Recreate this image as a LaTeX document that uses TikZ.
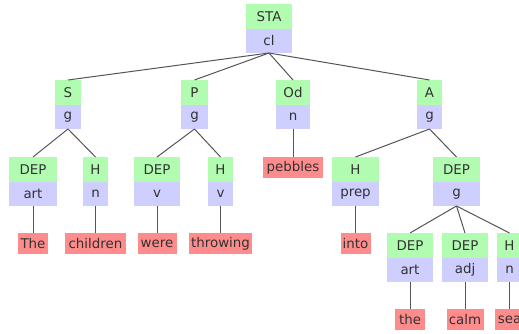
\documentclass[tikz,border=0pt]{standalone}
\usepackage{fontspec}
\setmainfont{DejaVu Sans}
\definecolor{tagc}{RGB}{178,252,178}
\definecolor{catc}{RGB}{206,206,255}
\definecolor{wordc}{RGB}{255,140,140}
\definecolor{txtc}{RGB}{50,50,50}
\definecolor{linec}{RGB}{85,85,85}
\tikzset{
  base/.style={inner sep=0pt, outer sep=0pt, text=txtc, font=\fontsize{13.4}{15}\selectfont},
  tagbox/.style={base, fill=tagc, minimum height=25pt},
  catbox/.style={base, fill=catc, minimum height=24pt},
  wordbox/.style={base, fill=wordc, minimum height=21pt},
  link/.style={draw=linec, line width=1pt}
}
\newcommand\mytb[6]{%
  \node[tagbox, minimum width=#4pt, anchor=north] (#1t) at (#2,#3) {#5};
  \node[catbox, minimum width=#4pt, anchor=north] (#1b) at (#1t.south) {#6};}
\newcommand\mywd[5]{%
  \node[wordbox, minimum width=#4pt, anchor=north] (#1) at (#2,#3) {#5};}
\begin{document}
\begin{tikzpicture}[x=1pt,y=-1pt]
\useasboundingbox (0,0) rectangle (519,334);
\clip (0,0) rectangle (519,334);
\fill[white] (0,0) rectangle (519,334);
% level 1
\mytb{sta}{269}{4}{46}{STA}{cl}
% level 2
\mytb{s}{68}{80}{26}{S}{g}
\mytb{p}{194.5}{80}{27}{P}{g}
\mytb{od}{293}{80}{34}{Od}{n}
\mytb{a}{429.5}{80}{25}{A}{g}
% level 3
\mytb{sdep}{33}{157}{48}{DEP}{art}
\mytb{sh}{95.5}{157}{25}{H}{n}
\mytb{pdep}{157}{157}{46}{DEP}{v}
\mytb{ph}{220.5}{157}{25}{H}{v}
\mytb{ah}{355.5}{157}{47}{H}{prep}
\mytb{adep}{456.5}{157}{47}{DEP}{g}
% level 4
\mytb{gdep}{410}{233}{46}{DEP}{art}
\mytb{gadj}{465}{233}{46}{DEP}{adj}
\mytb{gh}{509.5}{233}{25}{H}{n}
% words
\mywd{wthe}{33}{233}{30}{The}
\mywd{wchildren}{95.5}{233}{61}{children}
\mywd{wwere}{157}{233}{39}{were}
\mywd{wthrowing}{220.5}{233}{63}{throwing}
\mywd{wpebbles}{293}{157}{60}{pebbles}
\mywd{winto}{355.5}{233}{30}{into}
\mywd{wthe2}{410}{309}{30}{the}
\mywd{wcalm}{465}{309}{37}{calm}
\mywd{wsea}{509.5}{309}{30}{sea}
% connectors
\foreach \c in {s,p,od,a} \draw[link] (stab.south) -- (\c t.north);
\foreach \c in {sdep,sh} \draw[link] (sb.south) -- (\c t.north);
\foreach \c in {pdep,ph} \draw[link] (pb.south) -- (\c t.north);
\foreach \c in {ah,adep} \draw[link] (ab.south) -- (\c t.north);
\foreach \c in {gdep,gadj,gh} \draw[link] (adepb.south) -- (\c t.north);
\draw[link] (sdepb.south) -- (wthe.north);
\draw[link] (shb.south) -- (wchildren.north);
\draw[link] (pdepb.south) -- (wwere.north);
\draw[link] (phb.south) -- (wthrowing.north);
\draw[link] (odb.south) -- (wpebbles.north);
\draw[link] (ahb.south) -- (winto.north);
\draw[link] (gdepb.south) -- (wthe2.north);
\draw[link] (gadjb.south) -- (wcalm.north);
\draw[link] (ghb.south) -- (wsea.north);
\end{tikzpicture}
\end{document}
